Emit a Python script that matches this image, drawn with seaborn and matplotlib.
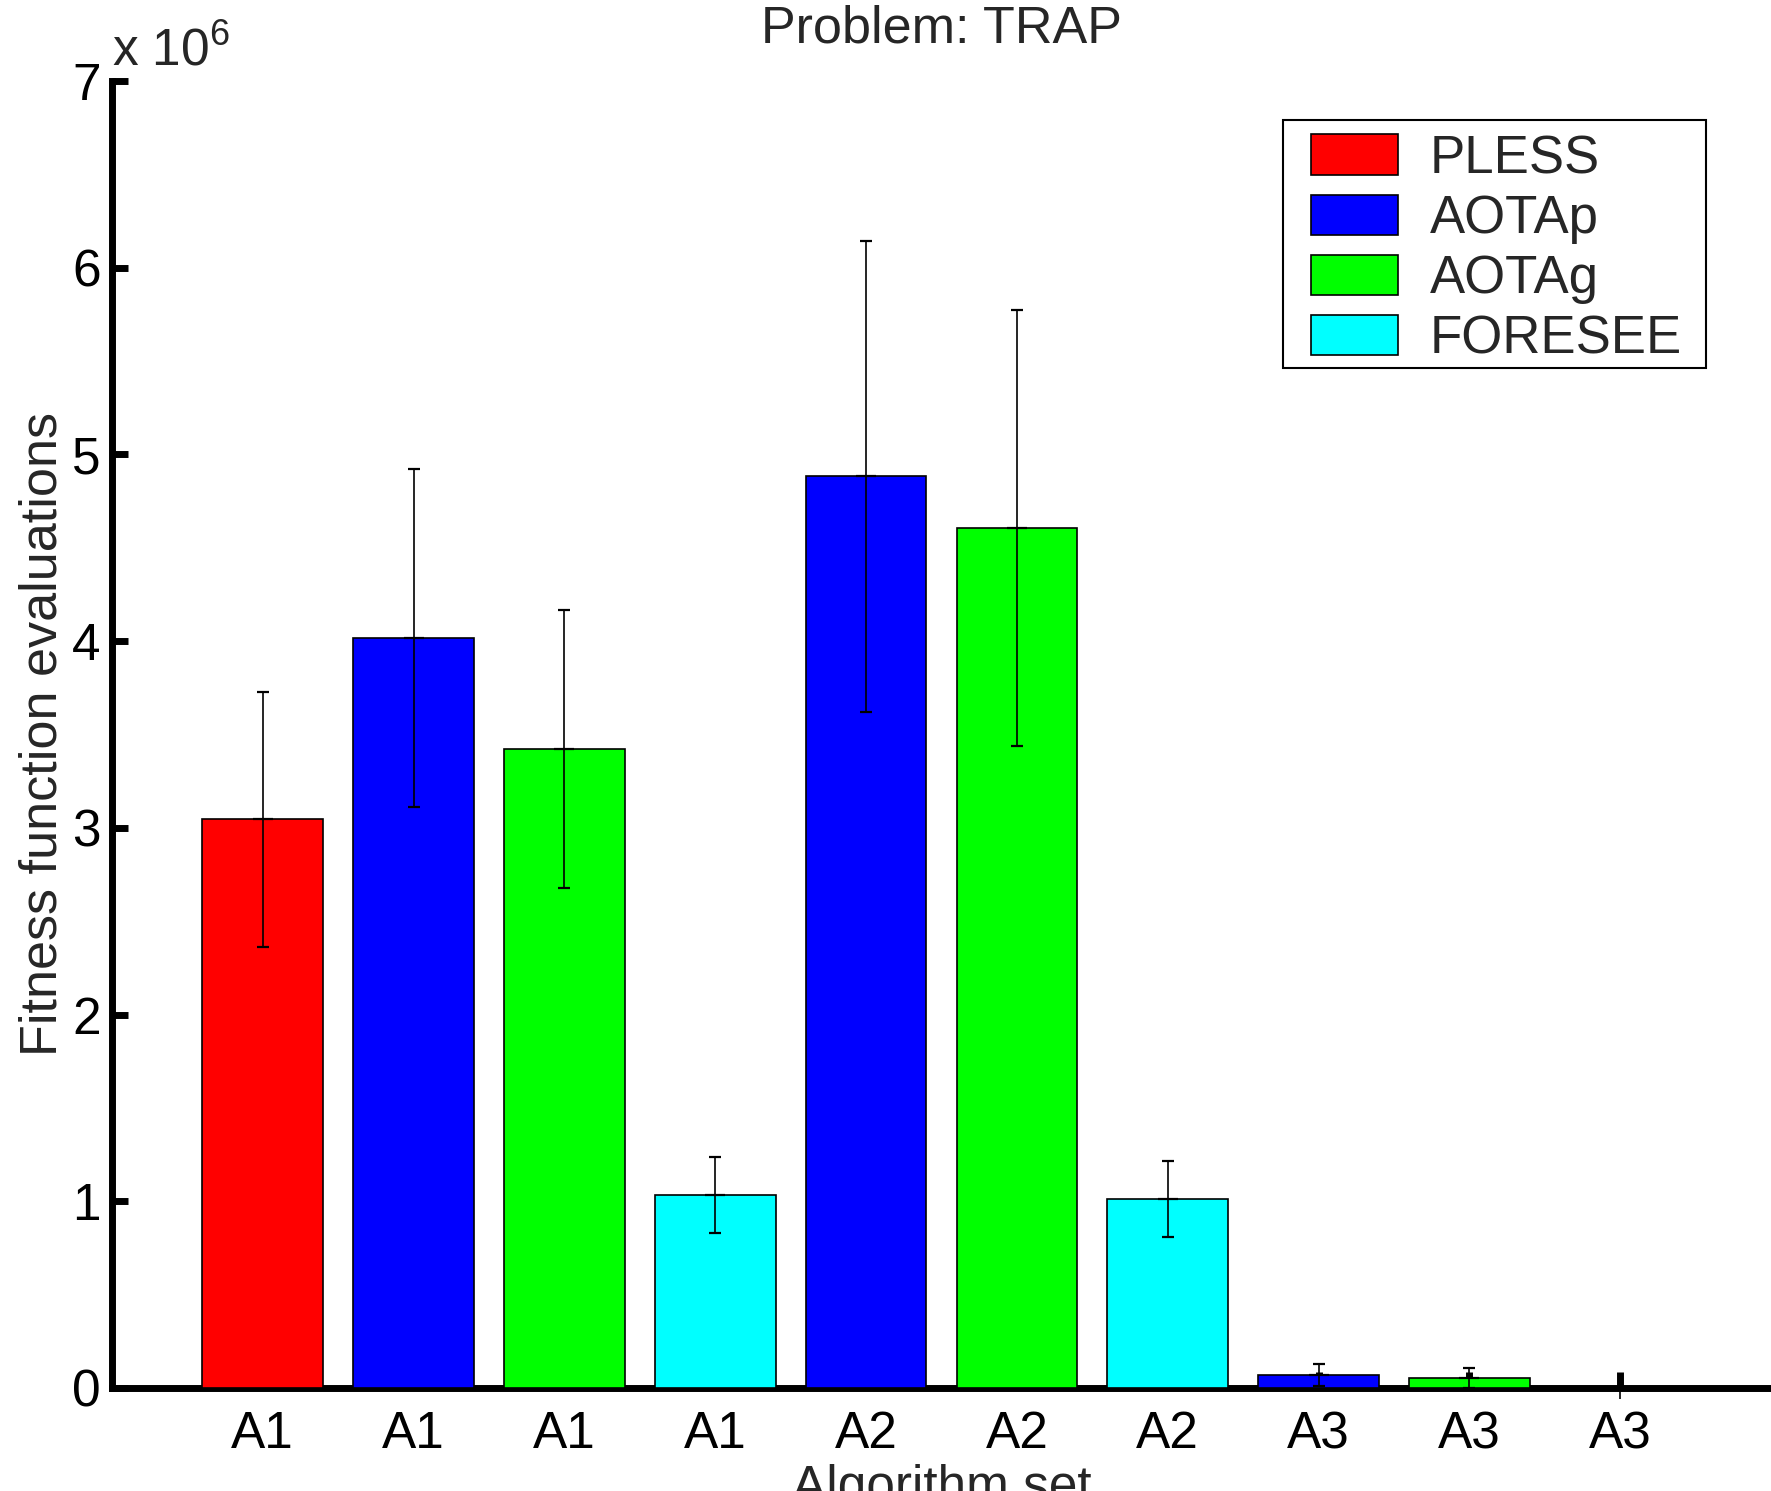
import matplotlib
matplotlib.use("Agg")
import matplotlib.pyplot as plt
import seaborn as sns
import pandas as pd
import numpy as np
from matplotlib.patches import Patch, Rectangle

# ---- data (values in units of 10^6) ----
group_labels = ["A1", "A1", "A1", "A1", "A2", "A2", "A2", "A3", "A3", "A3"]
methods = ["PLESS", "AOTAp", "AOTAg", "FORESEE", "AOTAp", "AOTAg", "FORESEE", "AOTAp", "AOTAg", "FORESEE"]
means = [3.045, 4.018, 3.424, 1.033, 4.882, 4.604, 1.010, 0.071, 0.054, 0.0]
stds = [0.684, 0.904, 0.744, 0.202, 1.262, 1.168, 0.203, 0.058, 0.055, 0.06]
legend_order = ["PLESS", "AOTAp", "AOTAg", "FORESEE"]
colors = {"PLESS": "#FF0000", "AOTAp": "#0000FF", "AOTAg": "#00FF00", "FORESEE": "#00FFFF"}

positions = [str(i) for i in range(len(means))]
df = pd.DataFrame({"pos": positions, "value": means, "method": methods})

sns.set_style("white")
plt.rcParams["font.family"] = ["Liberation Sans", "DejaVu Sans"]
plt.rcParams["mathtext.fontset"] = "custom"
plt.rcParams["mathtext.rm"] = "Liberation Sans"
plt.rcParams["mathtext.it"] = "Liberation Sans"

fig = plt.figure(figsize=(17.71, 14.91), dpi=100)
ax = fig.add_axes([0.0632, 0.0691, 1.0 - 0.0632, 0.9457 - 0.0691])

sns.barplot(data=df, x="pos", y="value", hue="method", order=positions,
            hue_order=legend_order, palette=colors, dodge=False, width=0.8,
            edgecolor="black", linewidth=1.2, errorbar=None, legend=False,
            saturation=1, ax=ax)

xs = np.arange(len(means))
m = np.array(means)
s = np.array(stds)
nz = m > 0
ax.errorbar(xs[nz], m[nz], yerr=s[nz], fmt="none", ecolor="black", elinewidth=1.2,
            capsize=4.5, capthick=1.6, clip_on=False, zorder=3)
ax.errorbar(xs[~nz], m[~nz], yerr=s[~nz], fmt="none", ecolor="black", elinewidth=1.2,
            capsize=0, clip_on=False, zorder=0.4)
ax.plot(xs[nz], m[nz], linestyle="none", marker="_", markersize=15,
        markeredgewidth=1.6, color="black", zorder=3)

ax.set_xlim(-1, 10)
ax.set_ylim(0, 7)
ax.set_yticks(range(0, 8))
ax.set_xticks(xs)
ax.set_xticklabels(group_labels)

ax.set_axisbelow(True)
for side in ["top", "right"]:
    ax.spines[side].set_visible(False)
for side in ["left", "bottom"]:
    ax.spines[side].set_linewidth(5)
    ax.spines[side].set_color("black")
    ax.spines[side].set_zorder(0.5)
    ax.spines[side].set_capstyle("projecting")

ax.tick_params(axis="both", direction="in", length=11.5, width=5, color="black",
               labelsize=37, labelcolor="black", bottom=True, left=True)
ax.tick_params(axis="x", pad=16)
ax.tick_params(axis="y", pad=8)

ax.set_ylabel("Fitness function evaluations", fontsize=37.5)
ax.yaxis.set_label_coords(-0.027, 0.5)
ax.set_xlabel("Algorithm set", fontsize=37)
ax.xaxis.set_label_coords(0.5, -0.058)
ax.set_title("Problem: TRAP", fontsize=37.5, pad=28)

ax.text(0.0, 1.012, r"x 10$^{6}$", transform=ax.transAxes, fontsize=37,
        ha="left", va="baseline")

# legend frame box
ax.add_patch(Rectangle((0.7058, 0.7804), 0.9608 - 0.7058, 0.9702 - 0.7804,
                       transform=ax.transAxes, facecolor="white", edgecolor="black",
                       linewidth=1.5, zorder=4, clip_on=False))
handles = [Patch(facecolor=colors[k], edgecolor="black", linewidth=1.2) for k in legend_order]
leg = ax.legend(handles, legend_order, loc="upper left", bbox_to_anchor=(0.7227, 0.9594),
                fontsize=38, frameon=False, handlelength=1.65, handleheight=0.8,
                handletextpad=0.6, labelspacing=0.19, borderpad=0, borderaxespad=0)
leg.set_zorder(5)

fig.savefig("out.png", dpi=100)
